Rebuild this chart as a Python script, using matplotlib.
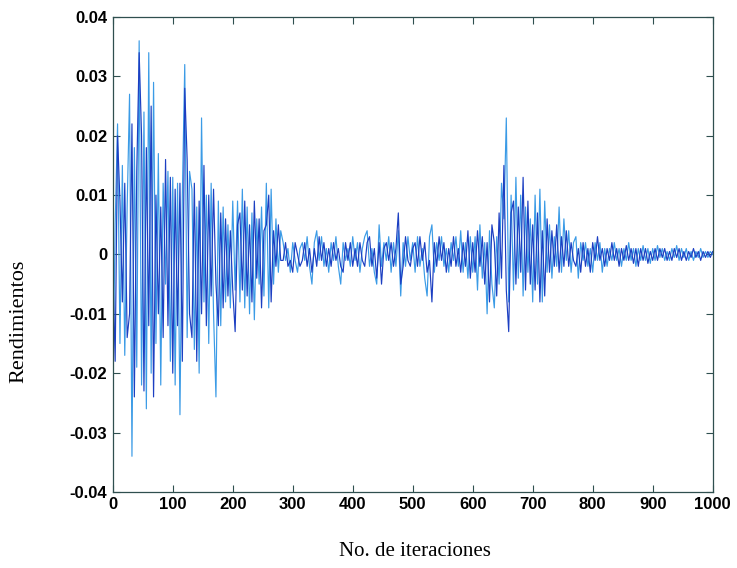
import numpy as np
import matplotlib
matplotlib.use("Agg")
import matplotlib.pyplot as plt

# rendimientos, en milesimas, uno cada 4 iteraciones
serie_clara = [
    -24, 5, 22, -15, 15, -17, 8, 27, -34, 18, -19, 36, -22, 24, -26, 34,
    -20, 29, -15, 17, -22, 12, -5, 14, -18, 13, -22, 12, -27, 10, 32, -14, 14,
    11, -16, 8, -20, 23, -8, 10, -15, 12, -10, -24, 9, -12, 8, -8, 5, -9, 9,
    -6, 9, -8, 11, -9, 8, -10, 7, -11, 6, -5, 8, -7, 12, -9, 11, -5, 6, -3, 4,
    2, -1, 1, -3, 2, -1, -3, 1, 2, -1, 3, -2, -5, 2, 4, -1, 3, -2, 1, -3,
    2, -1, 3, -2, -5, 2, -1, 1, -2, 3, -1, 2, -3, 1, 3, 4, -2, 1, -3, -5,
    5, -2, 2, -1, 3, -3, 2, -2, 4, -7, 2, -2, 3, -1, 2, -3, 3, -2, 1, -4,
    -7, 3, 5, -3, 2, -1, 3, -2, 1, -3, 2, -1, 3, -2, 4, -3, 2, -4, 3, -3,
    3, -6, 5, -4, 2, -10, 4, -5, -9, 3, -5, 12, 6, 23, -8, 10, -6, 13, -4, 10,
    -7, 8, -3, 6, -8, 10, -5, 11, -8, 9, -3, 5, -4, 3, -2, 8, -3, 6, -1, 4,
    -3, 2, 3, -4, 2,
    -1, 2, -2, 1, -3, 2, -1, 2, -3, 1, -2, 1, -1, 2, -1, 1, -2, 1, -1, 2,
    -1, 1, -2, 1, -1, 1.5, -1, 1, -1.5, 1, -1, 1.5, -0.5, 1, -1, 0.5, -1, 1,
    -0.5, 1.5, -1, 1, -0.5, 1, -1, 0.5, -1, 0.5, -0.5, 1, -0.5, 0.5, -0.5, 0.5,
    0,
]
serie_oscura = [
    -2, -18, 20, 9, -8, 12, -14, -10, 22, -24, 14, 34, 20, -23, 18, -12,
    25, -24, 10, -10, 8, -14, 16, -12, 13, -20, 11, -12, 12, -18, 28, 16, -10,
    -14, 12, -18, 9, -10, 15, -12, 10, -7, 11, -5, -12, 7, -9, 6, -7, 4, -6,
    -13, 5, 7, -6, 9, -7, 5, -8, 9, -4, 6, -9, 4, 5, 10, -8, 4, -2, 5, -1,
    -1, 2, -2, -1, -3, 2, 0, -2, -1, 2, -2, 1, -3, 1, -2, 3, -1, 2, -2, 1,
    -2, 2, -1, 1, -2, -3, 2, -1, 2, -2, 1, -2, 2, -1, -2, 2, 3, -2, 1, -4,
    2, -5, 1, 2, -1, 2, -2, 1, 7, -5, -2, 3, -1, -2, 1, 2, -2, 3, -1, 2,
    -3, -1, -8, 2, -2, 3, -1, 2, -3, 1, -2, 3, -2, 1, -3, 2, -2, 4, -4, 2,
    -3, 4, -2, 3, -5, 2, -8, 5, 2, -7, 7, -4, 15, -6, -13, 7, 9, -5, 8, -3,
    13, -6, 9, -5, 5, -6, 7, -8, 4, -7, 6, -3, 4, -2, 5, -3, 3, -2, 4, -2,
    2, -1, -2, 1, -3,
    2, -2, 1, -3, 2, -1, 3, -1, 1, -2, 1, -1, 2, -1, 1, -2, 1, -1, 1.5, -1,
    1, -1.5, 1, -2, 1, -1, 1, -1.5, 0.5, -1, 1, -1, 1, -0.5, 1, -1, 0.5, -1,
    1, -0.5, 1, -1, 0.5, -1, 0.5, -0.5, 1, -0.5, 0.5, -1, 0.5, -0.5, 0.5, -0.5,
    0.5,
]

y_ticks = [-0.04, -0.03, -0.02, -0.01, 0, 0.01, 0.02, 0.03, 0.04]
y_labels = ['-0.04', '-0.03', '-0.02', '-0.01', '0', '0.01', '0.02', '0.03', '0.04']
x_ticks = [0, 100, 200, 300, 400, 500, 600, 700, 800, 900, 1000]

clara = np.array(serie_clara) / 1000.0
oscura = np.array(serie_oscura) / 1000.0
x_clara = np.arange(len(clara)) * 4
x_oscura = np.arange(len(oscura)) * 4

fig = plt.figure(figsize=(7.37, 5.68), dpi=100)
ax = fig.add_axes([0.153, 0.134, 0.814, 0.836])

ax.plot(x_clara, clara, color='#3b9be6', linewidth=0.85)
ax.plot(x_oscura, oscura, color='#1c3fc2', linewidth=0.85)

ax.set_xlim(0, 1000)
ax.set_ylim(-0.04, 0.04)
ax.set_xticks(x_ticks)
ax.set_xticklabels([str(t) for t in x_ticks])
ax.set_yticks(y_ticks)
ax.set_yticklabels(y_labels)

for lab in ax.get_xticklabels() + ax.get_yticklabels():
    lab.set_fontfamily('Liberation Sans')
    lab.set_fontsize(12)
    lab.set_fontweight('bold')

ax.tick_params(direction='in', top=True, right=True, length=5,
               color='#2f4f4f', pad=4)
for s in ax.spines.values():
    s.set_color('#2f4f4f')
    s.set_linewidth(0.9)

ax.set_xlabel('No. de iteraciones', family='Liberation Serif', fontsize=15)
ax.set_ylabel('Rendimientos', family='Liberation Serif', fontsize=16)
ax.xaxis.set_label_coords(0.503, -0.105)
ax.yaxis.set_label_coords(-0.14, 0.36)

fig.savefig('out.png', dpi=100)
